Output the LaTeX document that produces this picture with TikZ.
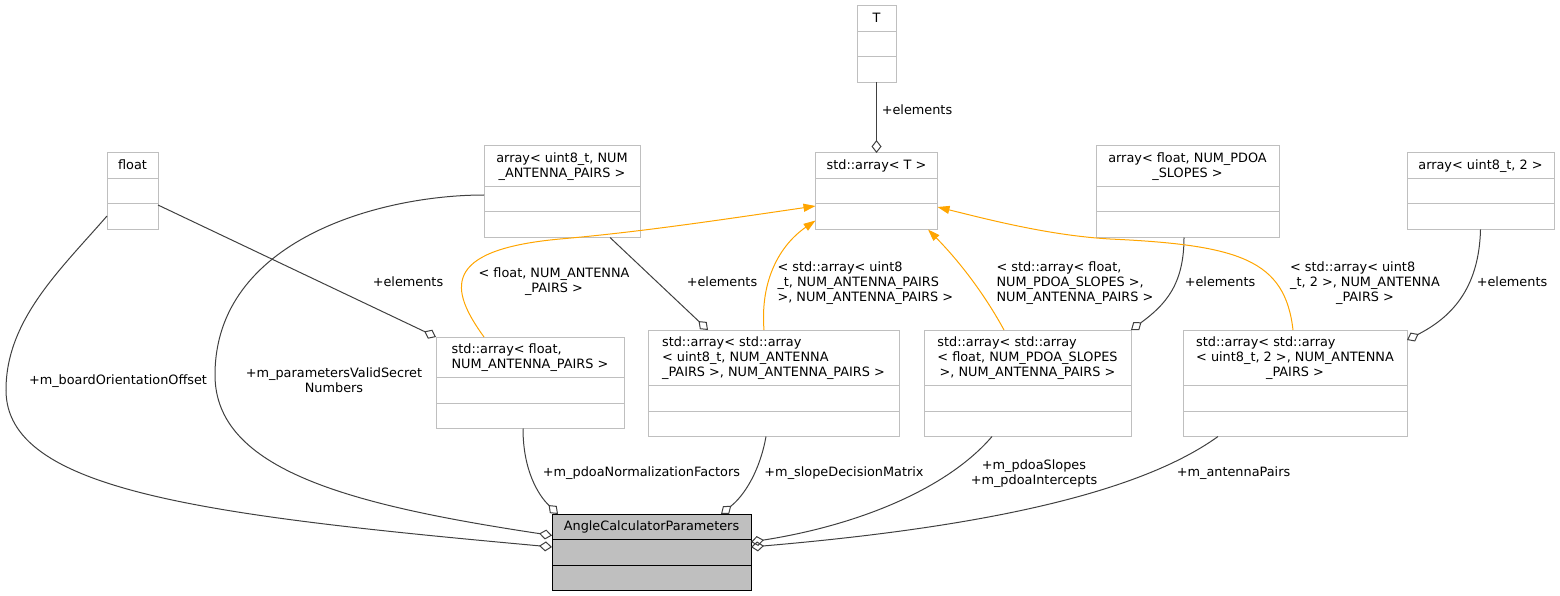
\documentclass[tikz,border=0pt]{standalone}
\usepackage{fontspec}
\setmainfont{DejaVu Sans}
\usetikzlibrary{arrows.meta}
\definecolor{boxgray}{HTML}{BFBFBF}
\definecolor{edgegray}{HTML}{404040}
\definecolor{instorange}{HTML}{FFA500}
\tikzset{
	every path/.style = {line width=1pt},
	cls/.style={draw=boxgray, fill=white, inner sep=0pt, outer sep=0pt},
	main/.style={draw=black, fill=boxgray, inner sep=0pt, outer sep=0pt},
	txt/.style={inner sep=0pt, font=\fontsize{12.85}{15}\selectfont},
	mem/.style={draw=edgegray, -{Diamond[open, length=13pt, width=10pt]}},
	inst/.style={draw=instorange, -{Triangle[length=12pt, width=8pt]}}
}
% title lines: left aligned, \crow centres one line
\newcommand\rows[2][l]{\begin{tabular}{@{}#1@{}}#2\end{tabular}}
\newcommand\crow[1]{\multicolumn{1}{@{}c@{}}{#1}}
% class box: style, name, top left, width, title lines, title
\newcommand\klass[6][cls]{%
	\node[#1, minimum width=#4, minimum height=15*#5+61.5, anchor=north west] (#2) at (#3) {};
	\node[txt, anchor=north, minimum height=15*#5+10.5] (#2-t) at (#2.north) {#6};
	\draw[#1, fill=none] ([yshift=-15*#5-10.5]#2.north west) -- ([yshift=-15*#5-10.5]#2.north east)
		([yshift=-15*#5-36]#2.north west) -- ([yshift=-15*#5-36]#2.north east);
}

\begin{document}
\begin{tikzpicture}[x=1pt, y=-1pt]
	\useasboundingbox (0,0) rectangle (1560,596);
	\klass{T}{857,6}{39}{1}{\rows{T}}
	\klass{stdT}{815.5,153}{122}{1}{\rows{std::array< T >}}
	\klass{fl}{107,153}{51}{1}{\rows{float}}
	\klass{au8}{484,146}{156}{2}{\rows[c]{array< uint8\_t, NUM\\\_ANTENNA\_PAIRS >}}
	\klass{afl}{1096,146}{183}{2}{\rows[c]{array< float, NUM\_PDOA\\\_SLOPES >}}
	\klass{au2}{1407,153}{147}{1}{\rows{array< uint8\_t, 2 >}}
	\klass{sfl}{436,337}{188}{2}{\rows{std::array< float,\\\crow{NUM\_ANTENNA\_PAIRS >}}}
	\klass{su8}{648,330}{251}{3}{\rows{std::array< std::array\\< uint8\_t, NUM\_ANTENNA\\\crow{\_PAIRS >, NUM\_ANTENNA\_PAIRS >}}}
	\klass{sfs}{924,330}{207}{3}{\rows{std::array< std::array\\< float, NUM\_PDOA\_SLOPES\\\crow{>, NUM\_ANTENNA\_PAIRS >}}}
	\klass{su2}{1183,330}{224}{3}{\rows{std::array< std::array\\< uint8\_t, 2 >, NUM\_ANTENNA\\\crow{\_PAIRS >}}}
	\klass[main]{acp}{552,514}{199}{1}{\rows{AngleCalculatorParameters}}

	% members
	\draw[mem] (T.south) -- (stdT.north);
	\draw[mem] ([yshift=-24.75pt]fl.west) .. controls (60,270) and (6,320) .. (6,390)
		.. controls (6,490) and (200,515) .. ([yshift=5.25pt]acp.west);
	\draw[mem] ([yshift=-3.25pt]au8.west) .. controls (380,195) and (215,240) .. (215,375)
		.. controls (215,470) and (350,505) .. ([yshift=16.75pt]acp.west);
	\draw[mem] ([yshift=-13.75pt]fl.east) -- (sfl.north west);
	\draw[mem] ([xshift=48pt]au8.south) -- ([xshift=-65.5pt]su8.north);
	\draw[mem] ([xshift=-3.5pt]afl.south) .. controls (1184,285) and (1165,305) .. (sfs.north east);
	\draw[mem] (au2.south) .. controls (1479,290) and (1450,318) .. ([yshift=-10pt]su2.north east);
	\draw[mem] ([xshift=-7pt]sfl.south) .. controls (523,470) and (538,495) .. ([xshift=-93.5pt]acp.north);
	\draw[mem] ([xshift=-7.5pt]su8.south) .. controls (760,470) and (745,495) .. ([xshift=69.5pt]acp.north);
	\draw[mem] ([xshift=-35.5pt]sfs.south) .. controls (948,488) and (860,525) .. ([yshift=10.25pt]acp.east);
	\draw[mem] ([xshift=-77pt]su2.south) .. controls (1130,500) and (950,530) .. ([yshift=5.25pt]acp.east);

	% template instances
	\draw[inst] ([xshift=-46pt]sfl.north) .. controls (450,290) and (440,250) .. (560,239)
		.. controls (640,232) and (720,220) .. ([yshift=-14.75pt]stdT.west);
	\draw[inst] ([xshift=-9.5pt]su8.north) .. controls (760,280) and (780,245) .. ([yshift=9pt]stdT.south west);
	\draw[inst] ([xshift=-23.5pt]sfs.north) .. controls (985,295) and (960,262) .. ([xshift=-9.5pt]stdT.south east);
	\draw[inst] ([xshift=-2pt]su2.north) .. controls (1285,260) and (1240,245) .. (1110,239)
		.. controls (1050,235.5) and (990,220) .. ([yshift=-15.75pt]stdT.east);

	% labels
	\node[txt] (lT) at (917,112) {\rows{+elements}};
	\node[txt] (lfl) at (118,381) {\rows{+m\_boardOrientationOffset}};
	\node[txt] (lau8) at (334,381.5) {\rows[c]{+m\_parametersValidSecret\\Numbers}};
	\node[txt] (lsfl) at (408,283) {\rows{+elements}};
	\node[txt] (lisfl) at (554,282) {\rows[c]{< float, NUM\_ANTENNA\\\_PAIRS >}};
	\node[txt] (lsu8) at (722,283) {\rows{+elements}};
	\node[txt, anchor=west] (lisu8) at (777,283) {\rows{< std::array< uint8\\\_t, NUM\_ANTENNA\_PAIRS\\>, NUM\_ANTENNA\_PAIRS >}};
	\node[txt, anchor=west] (lisfs) at (996,283) {\rows{< std::array< float,\\NUM\_PDOA\_SLOPES >,\\NUM\_ANTENNA\_PAIRS >}};
	\node[txt] (lsfs) at (1220,283) {\rows{+elements}};
	\node[txt] (lisu2) at (1365,283) {\rows{< std::array< uint8\\\_t, 2 >, NUM\_ANTENNA\\\crow{\_PAIRS >}}};
	\node[txt] (lsu2) at (1512,283) {\rows{+elements}};
	\node[txt] (lsflm) at (641.5,473) {\rows{+m\_pdoaNormalizationFactors}};
	\node[txt] (lsu8m) at (844,473) {\rows{+m\_slopeDecisionMatrix}};
	\node[txt] (lsfsm) at (1034,474) {\rows[c]{+m\_pdoaSlopes\\+m\_pdoaIntercepts}};
	\node[txt] (lsu2m) at (1233.5,473) {\rows{+m\_antennaPairs}};
\end{tikzpicture}
\end{document}
